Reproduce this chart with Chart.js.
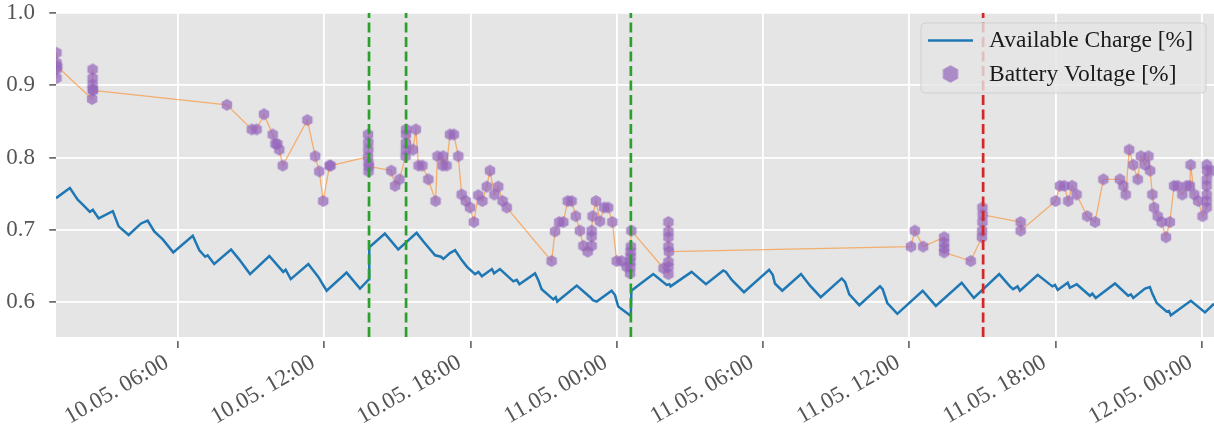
<!DOCTYPE html>
<html>
<head>
<meta charset="utf-8">
<script src="https://cdn.jsdelivr.net/npm/chart.js@4.4.0/dist/chart.umd.min.js"></script>
<style>
  html, body { margin: 0; padding: 0; background: #fff; }
  #wrap { width: 1214px; height: 434px; position: relative; }
</style>
</head>
<body>
<div id="wrap"><canvas id="chart"></canvas></div>
<script>
// Hours since 10.05. 00:00
const chargeHours = [
  1.00, 1.57, 1.89, 2.10, 2.39, 2.51, 2.75, 3.33, 3.57, 3.98, 4.49, 4.76, 5.03, 5.38, 5.81,
  6.61, 6.88, 7.12, 7.22, 7.49, 8.18, 8.52, 8.96, 9.75, 10.32, 10.42, 10.63, 11.35, 11.76, 12.10,
  12.92, 13.47, 13.84, 13.85, 14.49, 15.04, 15.79, 16.07, 16.55, 16.79, 16.89, 17.16, 17.37, 17.65,
  17.86, 18.19, 18.33, 18.47, 18.88, 18.97, 19.21, 19.76, 19.90, 20.01, 20.65, 20.78, 20.92, 21.40,
  21.50, 21.56, 22.36, 22.91, 23.02, 23.18, 23.79, 23.93, 24.06, 24.54, 24.58, 24.60, 25.50, 26.05,
  26.16, 26.21, 27.07, 27.66, 28.37, 28.48, 28.72, 29.22, 30.25, 30.40, 30.49, 30.79, 31.56, 31.93,
  32.37, 33.23, 33.37, 33.54, 33.95, 34.80, 34.91, 35.10, 35.51, 36.55, 37.09, 38.15, 38.65, 39.69,
  40.13, 40.26, 40.44, 40.54, 41.27, 41.87, 41.98, 42.09, 42.50, 42.59, 42.87, 43.41, 43.51, 43.65,
  44.44, 44.98, 45.09, 45.19, 45.67, 45.87, 45.97, 46.15, 46.56, 46.65, 46.73, 47.55, 48.13, 48.50
];
const chargeValues = [
  0.744, 0.758, 0.742, 0.735, 0.725, 0.728, 0.716, 0.726, 0.705, 0.693, 0.709, 0.713, 0.698, 0.687, 0.669,
  0.692, 0.672, 0.663, 0.665, 0.653, 0.673, 0.659, 0.639, 0.664, 0.642, 0.645, 0.632, 0.653, 0.635, 0.616,
  0.641, 0.619, 0.632, 0.676, 0.695, 0.673, 0.696, 0.684, 0.665, 0.663, 0.660, 0.668, 0.672, 0.658,
  0.649, 0.639, 0.642, 0.636, 0.646, 0.640, 0.646, 0.629, 0.631, 0.625, 0.640, 0.631, 0.618, 0.604,
  0.607, 0.601, 0.623, 0.607, 0.603, 0.601, 0.616, 0.610, 0.594, 0.582, 0.584, 0.616, 0.639, 0.624,
  0.625, 0.622, 0.642, 0.625, 0.644, 0.642, 0.631, 0.614, 0.645, 0.638, 0.626, 0.616, 0.639, 0.623,
  0.607, 0.633, 0.628, 0.611, 0.596, 0.622, 0.618, 0.599, 0.584, 0.616, 0.595, 0.627, 0.606, 0.639,
  0.622, 0.618, 0.622, 0.616, 0.638, 0.622, 0.624, 0.617, 0.627, 0.620, 0.625, 0.609, 0.612, 0.606,
  0.626, 0.609, 0.611, 0.606, 0.619, 0.621, 0.612, 0.599, 0.587, 0.588, 0.582, 0.602, 0.586, 0.598
];

const voltageHours = [
  1.02, 1.02, 1.02, 1.02, 1.05,
  2.48, 2.50, 2.50, 2.50, 2.50, 2.52,
  8.01,
  9.03, 9.23, 9.53, 9.89, 10.00, 10.08, 10.16, 10.30,
  11.31, 11.63, 11.80, 11.96, 12.22, 12.26,
  13.80, 13.80, 13.81, 13.81, 13.82, 13.82, 13.83,
  14.75, 14.91, 15.09,
  15.34, 15.35, 15.35, 15.36, 15.36,
  15.64, 15.76, 15.87, 16.03, 16.27, 16.57, 16.65, 16.86, 16.88, 17.02, 17.16, 17.32, 17.50, 17.64,
  17.81, 17.98, 18.14, 18.32, 18.49, 18.67, 18.80, 18.98, 19.14, 19.32, 19.49,
  21.33, 21.47, 21.64, 21.81, 21.99, 22.15, 22.32, 22.49, 22.63, 22.81, 22.97, 22.97, 22.97, 23.01,
  23.15, 23.31, 23.48, 23.65, 23.82, 24.00, 24.20, 24.41,
  24.55, 24.56, 24.56, 24.57, 24.57, 24.58, 24.60,
  25.92, 26.12, 26.12, 26.12, 26.12, 26.12, 26.12, 26.12, 26.14,
  36.07, 36.23, 36.57,
  37.43, 37.43, 37.43, 37.43,
  38.52,
  38.98, 38.99, 39.00, 39.00, 39.01,
  40.57, 40.57,
  42.00, 42.18, 42.36, 42.52, 42.68, 42.86, 43.30, 43.62, 43.96, 44.64, 44.78, 44.88, 45.02, 45.19,
  45.37, 45.50, 45.67, 45.81, 45.88, 45.97, 46.04, 46.19, 46.35, 46.53, 46.69, 46.86, 47.01, 47.20,
  47.38, 47.51, 47.54, 47.69, 47.85, 48.03,
  48.20, 48.20, 48.20, 48.20, 48.20, 48.20, 48.21, 48.41
];
const voltageValues = [
  0.910, 0.945, 0.931, 0.922, 0.926,
  0.881, 0.922, 0.910, 0.901, 0.894, 0.893,
  0.873,
  0.839, 0.839, 0.860, 0.832, 0.819, 0.819, 0.811, 0.789,
  0.852, 0.802, 0.781, 0.740, 0.789, 0.789,
  0.801, 0.832, 0.821, 0.811, 0.781, 0.792, 0.788,
  0.782, 0.761, 0.770,
  0.802, 0.811, 0.820, 0.832, 0.839,
  0.811, 0.839, 0.789, 0.789, 0.770, 0.740, 0.802, 0.789, 0.802, 0.789, 0.832, 0.832, 0.802, 0.749,
  0.740, 0.731, 0.711, 0.748, 0.740, 0.760, 0.782, 0.749, 0.760, 0.740, 0.731,
  0.657, 0.698, 0.711, 0.711, 0.740, 0.740, 0.719, 0.699, 0.678, 0.670, 0.678, 0.691, 0.699, 0.719,
  0.740, 0.712, 0.731, 0.731, 0.711, 0.657, 0.657, 0.649,
  0.640, 0.649, 0.656, 0.663, 0.670, 0.677, 0.699,
  0.647, 0.639, 0.649, 0.656, 0.677, 0.690, 0.698, 0.711, 0.670,
  0.677, 0.699, 0.677,
  0.690, 0.682, 0.675, 0.669,
  0.657,
  0.690, 0.699, 0.711, 0.731, 0.721,
  0.711, 0.699,
  0.740, 0.761, 0.761, 0.740, 0.761, 0.749, 0.719, 0.711, 0.770, 0.770, 0.761, 0.749, 0.811, 0.790,
  0.770, 0.802, 0.790, 0.802, 0.782, 0.749, 0.731, 0.719, 0.711, 0.690, 0.711, 0.761, 0.761, 0.749,
  0.761, 0.761, 0.790, 0.749, 0.740, 0.719,
  0.731, 0.740, 0.749, 0.761, 0.770, 0.790, 0.782, 0.782
];

// Event markers (vertical dashed lines)
const greenLineHours = [13.84, 15.36, 24.58];
const redLineHours = [39.03];

const xTickHours = [6, 12, 18, 24, 30, 36, 42, 48];
const xTickLabels = [
  '10.05. 06:00', '10.05. 12:00', '10.05. 18:00', '11.05. 00:00',
  '11.05. 06:00', '11.05. 12:00', '11.05. 18:00', '12.05. 00:00'
];
const yTickValues = [0.6, 0.7, 0.8, 0.9, 1.0];

const X_MIN = 1.0, X_MAX = 48.5;
const Y_MIN = 0.552, Y_MAX = 1.0;

// Hexagon marker (matplotlib 'h')
function makeHexagon(r, fill) {
  const size = Math.ceil(r) * 2 + 2;
  const c = document.createElement('canvas');
  c.width = size;
  c.height = size;
  const g = c.getContext('2d');
  g.beginPath();
  for (let k = 0; k < 6; k++) {
    const a = (-90 + k * 60) * Math.PI / 180;
    const px = size / 2 + r * Math.cos(a);
    const py = size / 2 + r * Math.sin(a);
    if (k === 0) g.moveTo(px, py); else g.lineTo(px, py);
  }
  g.closePath();
  g.fillStyle = fill;
  g.fill();
  return c;
}

const markerFill = 'rgba(148, 103, 189, 0.72)';
const hexMarker = makeHexagon(6.0, markerFill);
const hexLegend = makeHexagon(8.8, markerFill);

function toPoints(xs, ys) {
  return xs.map((x, i) => ({ x: x, y: ys[i] }));
}

function vline(h, color) {
  return {
    type: 'line',
    data: [{ x: h, y: Y_MIN }, { x: h, y: Y_MAX }],
    borderColor: color,
    borderWidth: 2.7,
    borderDash: [10, 4.5],
    pointRadius: 0,
    order: 0
  };
}

// Gray plot background
const plotBackground = {
  id: 'plotBackground',
  beforeDraw(chart) {
    const { ctx, chartArea } = chart;
    ctx.save();
    ctx.fillStyle = '#ffffff';
    ctx.fillRect(0, 0, chart.width, chart.height);
    ctx.fillStyle = '#e5e5e5';
    ctx.fillRect(chartArea.left, chartArea.top, chartArea.right - chartArea.left, chartArea.bottom - chartArea.top);
    ctx.restore();
  }
};

// Legend inside the plot, top right
const insideLegend = {
  id: 'insideLegend',
  afterDraw(chart) {
    const { ctx, chartArea } = chart;
    const ds = chart.data.datasets;
    const w = 285, h = 70;
    const x0 = chartArea.right - 8 - w;
    const y0 = chartArea.top + 10;
    ctx.save();
    ctx.beginPath();
    ctx.roundRect(x0, y0, w, h, 4);
    ctx.fillStyle = 'rgba(229, 229, 229, 0.8)';
    ctx.fill();
    ctx.strokeStyle = 'rgba(204, 204, 204, 0.8)';
    ctx.lineWidth = 1;
    ctx.stroke();

    // Available Charge
    ctx.beginPath();
    ctx.moveTo(x0 + 7, y0 + 17.5);
    ctx.lineTo(x0 + 52, y0 + 17.5);
    ctx.strokeStyle = ds[0].borderColor;
    ctx.lineWidth = 2.5;
    ctx.stroke();

    // Battery Voltage
    ctx.drawImage(hexLegend, x0 + 29.5 - hexLegend.width / 2, y0 + 51 - hexLegend.height / 2);

    ctx.fillStyle = '#1a1a1a';
    ctx.font = '23.5px "Liberation Serif", serif';
    ctx.textBaseline = 'middle';
    ctx.textAlign = 'left';
    ctx.fillText(ds[0].label, x0 + 68, y0 + 18);
    ctx.fillText(ds[2].label, x0 + 68, y0 + 52);
    ctx.restore();
  }
};

Chart.defaults.font.family = '"Liberation Serif", serif';
Chart.defaults.font.size = 23;
Chart.defaults.color = '#555555';

new Chart(document.getElementById('chart'), {
  type: 'scatter',
  data: {
    datasets: [
      {
        label: 'Available Charge [%]',
        type: 'line',
        data: toPoints(chargeHours, chargeValues),
        borderColor: '#1f77b4',
        borderWidth: 2.5,
        pointRadius: 0,
        tension: 0,
        order: 3
      },
      {
        label: 'Battery Voltage line',
        type: 'line',
        data: toPoints(voltageHours, voltageValues),
        borderColor: 'rgba(255, 127, 14, 0.55)',
        borderWidth: 1.3,
        pointRadius: 0,
        tension: 0,
        order: 2
      },
      {
        label: 'Battery Voltage [%]',
        data: toPoints(voltageHours, voltageValues),
        pointStyle: hexMarker,
        pointRadius: 5,
        showLine: false,
        clip: 0,
        order: 1
      },
      ...greenLineHours.map(h => vline(h, '#2ca02c')),
      ...redLineHours.map(h => vline(h, '#d62728'))
    ]
  },
  options: {
    responsive: true,
    maintainAspectRatio: false,
    animation: false,
    events: [],
    layout: { autoPadding: false, padding: { top: 13, right: 0, bottom: 0, left: 0 } },
    plugins: {
      legend: { display: false },
      tooltip: { enabled: false }
    },
    scales: {
      x: {
        type: 'linear',
        min: X_MIN,
        max: X_MAX,
        border: { display: false },
        grid: {
          color: '#ffffff',
          lineWidth: 1.8,
          tickColor: '#555555',
          tickWidth: 1.5,
          tickLength: 11,
          tickBorderDash: [7, 4],
          tickBorderDashOffset: 7
        },
        ticks: {
          autoSkip: false,
          minRotation: 30,
          maxRotation: 30,
          padding: 1,
          labelOffset: -11,
          color: '#555555',
          font: { size: 23 },
          callback: (v) => xTickLabels[xTickHours.indexOf(v)]
        },
        afterBuildTicks: (scale) => {
          scale.ticks = xTickHours.map(v => ({ value: v }));
        },
        afterFit: (scale) => {
          scale.height = 97;
          scale.paddingLeft = 0;
          scale.paddingRight = 0;
        }
      },
      y: {
        type: 'linear',
        min: Y_MIN,
        max: Y_MAX,
        border: { display: false },
        grid: {
          color: '#ffffff',
          lineWidth: 1.8,
          tickColor: '#555555',
          tickWidth: 1.5,
          tickLength: 10,
          tickBorderDash: [6.7, 3.3],
          tickBorderDashOffset: 6.7
        },
        ticks: {
          padding: 11,
          color: '#555555',
          callback: (v) => v.toFixed(1)
        },
        afterBuildTicks: (scale) => {
          scale.ticks = yTickValues.map(v => ({ value: v }));
        },
        afterFit: (scale) => {
          scale.width = 56;
          scale.paddingTop = 0;
          scale.paddingBottom = 0;
        }
      }
    }
  },
  plugins: [plotBackground, insideLegend]
});
</script>
</body>
</html>
